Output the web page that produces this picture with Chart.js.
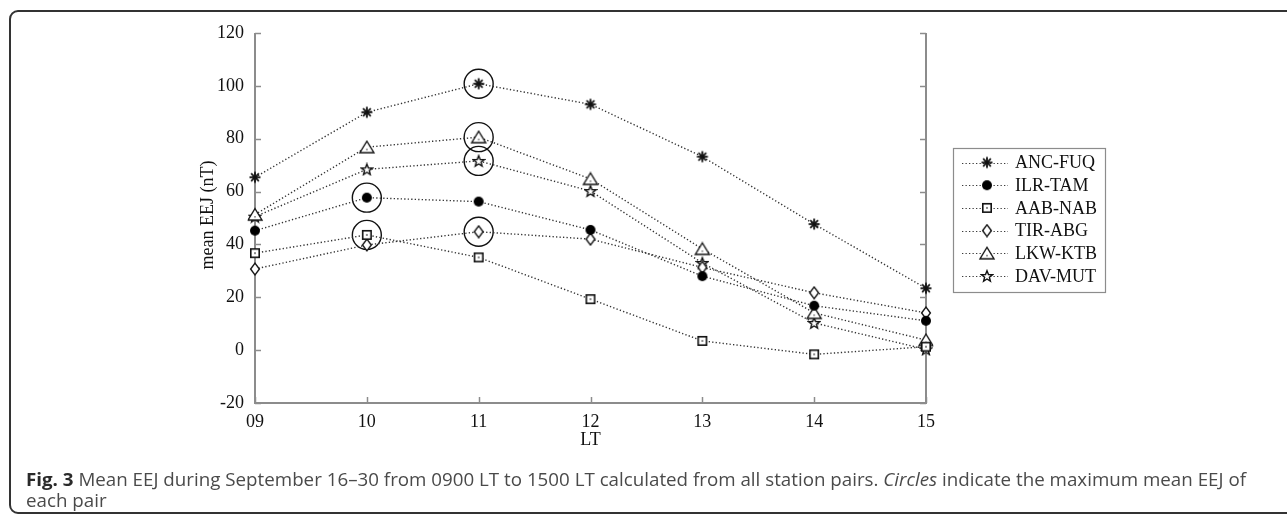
<!DOCTYPE html>
<html>
<head>
<meta charset="utf-8">
<script src="https://cdn.jsdelivr.net/npm/chart.js@4.4.1/dist/chart.umd.min.js"></script>
<style>
  html, body { margin: 0; padding: 0; background: #fff; }
  #wrap { position: relative; width: 1287px; height: 517px; overflow: hidden; background: #fff; }
  #c { position: absolute; left: 0; top: 0; }
  #frame { position: absolute; left: 9px; top: 10px; width: 1300px; height: 504px; border: 2px solid #333; border-radius: 9px; pointer-events: none; box-sizing: border-box; }
  #caption { position: absolute; left: 26px; top: 468px; font-family: 'Open Sans', sans-serif; font-size: 18.5px; line-height: 21px; color: #4a4a4a; white-space: nowrap; transform-origin: 0 0; }
  #caption b { color: #2a2a2a; }
</style>
</head>
<body>
<div id="wrap">
  <canvas id="c" width="1287" height="517"></canvas>
  <div id="frame"></div>
  <div id="caption"><span id="line1"><b>Fig. 3</b> Mean EEJ during September 16–30 from 0900 LT to 1500 LT calculated from all station pairs. <i>Circles</i> indicate the maximum mean EEJ of</span><br><span>each pair</span></div>
</div>
<script>
// ---- data ----
const categories = ['09', '10', '11', '12', '13', '14', '15'];
const seriesNames = ['ANC-FUQ', 'ILR-TAM', 'AAB-NAB', 'TIR-ABG', 'LKW-KTB', 'DAV-MUT'];
const ancFuq = [65.4, 90.0, 100.8, 93.0, 73.2, 47.7, 23.4];
const ilrTam = [45.2, 57.7, 56.2, 45.5, 28.0, 16.8, 11.1];
const aabNab = [36.7, 43.6, 35.1, 19.3, 3.5, -1.6, 1.3];
const tirAbg = [30.7, 39.8, 44.8, 42.0, 31.3, 21.7, 14.1];
const lkwKtb = [51.3, 76.8, 80.6, 64.8, 38.3, 14.1, 3.8];
const davMut = [50.5, 68.4, 71.6, 60.2, 33.0, 10.3, 0.3];
const yTicks = [-20, 0, 20, 40, 60, 80, 100, 120];
const seriesValues = [ancFuq, ilrTam, aabNab, tirAbg, lkwKtb, davMut];

// ---- marker images ----
function mk(w, h, draw) {
  const c = document.createElement('canvas');
  c.width = w; c.height = h;
  const x = c.getContext('2d');
  draw(x, w / 2, h / 2);
  return c;
}
const markers = [
  mk(14, 14, (x, cx, cy) => {
    x.strokeStyle = '#111'; x.lineWidth = 1.8;
    for (let k = 0; k < 4; k++) {
      const a = k * Math.PI / 4, r = 5.5;
      x.beginPath(); x.moveTo(cx - r * Math.cos(a), cy - r * Math.sin(a)); x.lineTo(cx + r * Math.cos(a), cy + r * Math.sin(a)); x.stroke();
    }
  }),
  mk(12, 12, (x, cx, cy) => {
    x.fillStyle = '#000'; x.beginPath(); x.arc(cx, cy, 5, 0, Math.PI * 2); x.fill();
  }),
  mk(12, 12, (x, cx, cy) => {
    x.fillStyle = '#fff'; x.fillRect(cx - 4.2, cy - 4.2, 8.4, 8.4);
    x.strokeStyle = '#111'; x.lineWidth = 1.6; x.strokeRect(cx - 4.2, cy - 4.2, 8.4, 8.4);
    x.fillStyle = '#333'; x.fillRect(cx - 0.75, cy - 0.75, 1.5, 1.5);
  }),
  mk(12, 14, (x, cx, cy) => {
    x.beginPath(); x.moveTo(cx, cy - 5.8); x.lineTo(cx + 4.4, cy); x.lineTo(cx, cy + 5.8); x.lineTo(cx - 4.4, cy); x.closePath();
    x.fillStyle = '#fff'; x.fill(); x.strokeStyle = '#111'; x.lineWidth = 1.4; x.stroke();
  }),
  mk(18, 15, (x, cx, cy) => {
    x.beginPath(); x.moveTo(cx, cy - 6); x.lineTo(cx + 7, cy + 5.5); x.lineTo(cx - 7, cy + 5.5); x.closePath();
    x.fillStyle = '#fff'; x.fill(); x.strokeStyle = '#111'; x.lineWidth = 1.4; x.stroke();
    x.fillStyle = '#444'; x.fillRect(cx - 0.6, cy + 1.5, 1.2, 1.5);
  }),
  mk(14, 14, (x, cx, cy) => {
    x.beginPath();
    for (let k = 0; k < 10; k++) {
      const r = k % 2 === 0 ? 5.8 : 2.5;
      const a = -Math.PI / 2 + k * Math.PI / 5;
      const px = cx + r * Math.cos(a), py = cy + 0.5 + r * Math.sin(a);
      if (k === 0) x.moveTo(px, py); else x.lineTo(px, py);
    }
    x.closePath();
    x.fillStyle = '#fff'; x.fill(); x.strokeStyle = '#111'; x.lineWidth = 1.4; x.stroke();
  })
];

// ---- maxima circles (derived from data) ----
const maxPoints = seriesValues.map(v => {
  let idx = 0;
  v.forEach((val, i) => { if (val > v[idx]) idx = i; });
  return { x: categories[idx], y: v[idx] };
});

const lineDash = [1.3, 2.2];
const datasets = seriesNames.map((name, i) => ({
  label: name,
  data: seriesValues[i],
  borderColor: '#333',
  borderWidth: 1.4,
  borderDash: lineDash,
  pointStyle: markers[i],
  pointRadius: 6,
  fill: false,
  tension: 0
}));
datasets.push({
  label: 'max',
  data: maxPoints,
  showLine: false,
  pointStyle: 'circle',
  pointRadius: 14.5,
  pointBorderWidth: 1.4,
  pointBorderColor: '#111',
  pointBackgroundColor: 'rgba(0,0,0,0)'
});

const SERIF = "'Liberation Serif', 'DejaVu Serif', serif";
const PLOT = { left: 255, right: 926, top: 33, bottom: 403 };

const decor = {
  id: 'decor',
  beforeDatasetsDraw(chart) {
    const ctx = chart.ctx, xs = chart.scales.x, ys = chart.scales.y;
    const L = chart.chartArea.left, R = chart.chartArea.right, T = chart.chartArea.top, B = chart.chartArea.bottom;
    ctx.save();
    ctx.strokeStyle = '#8c8c8c';
    ctx.lineWidth = 2;
    ctx.beginPath();
    ctx.moveTo(L, T); ctx.lineTo(L, B); ctx.lineTo(R, B); ctx.lineTo(R, T);
    ctx.stroke();
    ctx.lineWidth = 1.5;
    yTicks.forEach(v => {
      const y = Math.round(ys.getPixelForValue(v)) + 0.5;
      ctx.beginPath(); ctx.moveTo(L, y); ctx.lineTo(L + 6, y); ctx.stroke();
      ctx.beginPath(); ctx.moveTo(R, y); ctx.lineTo(R - 6, y); ctx.stroke();
    });
    categories.forEach((c, i) => {
      const x = Math.round(xs.getPixelForValue(i)) + 0.5;
      ctx.beginPath(); ctx.moveTo(x, B); ctx.lineTo(x, B - 6); ctx.stroke();
    });
    ctx.restore();
  },
  afterDraw(chart) {
    const ctx = chart.ctx;
    const L = chart.chartArea.left, R = chart.chartArea.right, T = chart.chartArea.top, B = chart.chartArea.bottom;
    ctx.save();
    ctx.fillStyle = '#111';
    ctx.font = '18px ' + SERIF;
    ctx.textAlign = 'center';
    ctx.textBaseline = 'middle';
    ctx.fillText('LT', (L + R) / 2, 440);
    ctx.translate(208, (T + B) / 2 - 3);
    ctx.rotate(-Math.PI / 2);
    ctx.fillText('mean EEJ (nT)', 0, 0);
    ctx.restore();

    // legend
    const bx = 953, by = 148, bw = 152, bh = 144;
    ctx.save();
    ctx.fillStyle = '#fff';
    ctx.fillRect(bx, by, bw, bh);
    ctx.strokeStyle = '#8c8c8c';
    ctx.lineWidth = 1.2;
    ctx.strokeRect(bx + 0.5, by + 0.5, bw, bh);
    ctx.font = '18px ' + SERIF;
    ctx.textBaseline = 'middle';
    ctx.textAlign = 'left';
    seriesNames.forEach((name, i) => {
      const y = 162.5 + i * 22.7;
      ctx.strokeStyle = '#3a3a3a';
      ctx.lineWidth = 1.2;
      ctx.setLineDash(lineDash);
      ctx.beginPath(); ctx.moveTo(962, Math.round(y) + 0.5); ctx.lineTo(1008, Math.round(y) + 0.5); ctx.stroke();
      ctx.setLineDash([]);
      const m = markers[i];
      ctx.drawImage(m, 987 - m.width / 2, y - m.height / 2);
      ctx.fillStyle = '#111';
      ctx.fillText(name, 1015, y + 1);
    });
    ctx.restore();
  }
};

new Chart(document.getElementById('c'), {
  type: 'line',
  data: { labels: categories, datasets },
  options: {
    responsive: false,
    animation: false,
    events: [],
    layout: { padding: { left: 0, top: PLOT.top, right: 1287 - PLOT.right, bottom: 0 } },
    plugins: { legend: { display: false }, tooltip: { enabled: false } },
    scales: {
      x: {
        type: 'category',
        offset: false,
        grid: { display: false, drawTicks: false },
        border: { display: false },
        ticks: { color: '#111', font: { family: SERIF, size: 18 }, padding: 8, maxRotation: 0, autoSkip: false },
        afterFit(s) { s.height = 517 - PLOT.bottom; }
      },
      y: {
        min: -20, max: 120,
        grid: { display: false, drawTicks: false },
        border: { display: false },
        afterBuildTicks(s) { s.ticks = yTicks.map(v => ({ value: v })); },
        ticks: { color: '#111', font: { family: SERIF, size: 18 }, padding: 11 },
        afterFit(s) { s.width = PLOT.left; }
      }
    }
  },
  plugins: [decor]
});

// fit caption width
const cap = document.getElementById('caption');
const w = document.getElementById('line1').getBoundingClientRect().width;
cap.style.transform = 'scaleX(' + (1220 / w) + ')';
</script>
</body>
</html>
